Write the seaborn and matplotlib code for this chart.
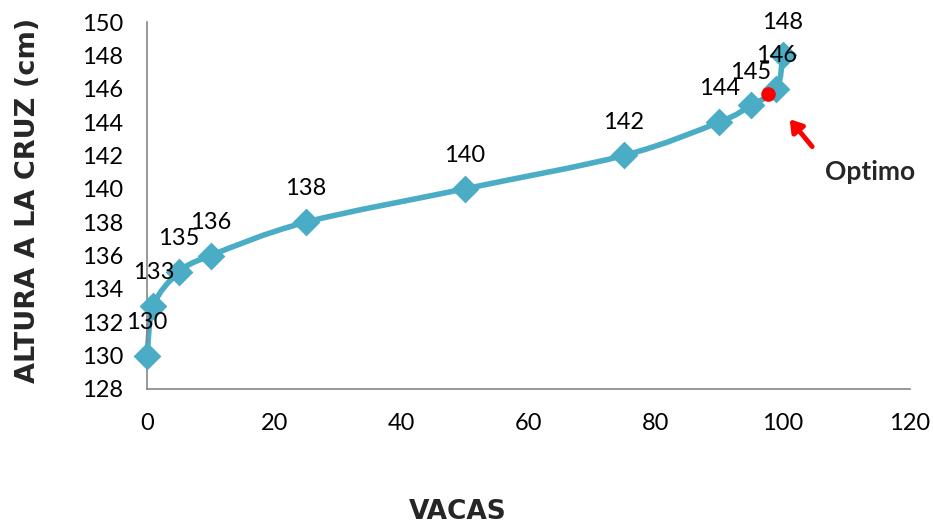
import numpy as np
import pandas as pd
import seaborn as sns
import matplotlib.pyplot as plt
from matplotlib.path import Path
from matplotlib.patches import PathPatch

# data
vacas = [0, 1, 5, 10, 25, 50, 75, 90, 95, 99, 100]
altura = [130, 133, 135, 136, 138, 140, 142, 144, 145, 146, 148]
labels = ["130", "133", "135", "136", "138", "140", "142", "144", "145", "146", "148"]
optimo_x = [97.6]
optimo_y = [145.7]

LINE = "#4BACC6"

sns.set_style("white")
plt.rcParams["font.family"] = ["Lato", "DejaVu Sans"]

df = pd.DataFrame({"VACAS": vacas, "ALTURA": altura})

fig = plt.figure(figsize=(9.33, 5.28), dpi=100)
ax = fig.add_axes([0.1576, 0.2633, 0.8177, 0.695])


def smooth_path(xs, ys):
    # Excel style smoothed line: Catmull-Rom segments as cubic Bezier curves
    pts = np.column_stack([xs, ys]).astype(float)
    n = len(pts)
    verts = [pts[0]]
    codes = [Path.MOVETO]
    for i in range(n - 1):
        p0 = pts[max(i - 1, 0)]
        p1 = pts[i]
        p2 = pts[i + 1]
        p3 = pts[min(i + 2, n - 1)]
        c1 = p1 + (p2 - p0) / 6.0
        c2 = p2 - (p3 - p1) / 6.0
        verts += [c1, c2, p2]
        codes += [Path.CURVE4] * 3
    return Path(verts, codes)


ax.add_patch(PathPatch(smooth_path(df["VACAS"], df["ALTURA"]), fill=False,
                       edgecolor=LINE, lw=4, capstyle="round", joinstyle="round",
                       zorder=2, clip_on=False))
sns.scatterplot(data=df, x="VACAS", y="ALTURA", marker="D", s=200, color=LINE,
                edgecolor=LINE, linewidth=0, ax=ax, zorder=3, clip_on=False)

for x, y, t in zip(vacas, altura, labels):
    ax.annotate(t, (x, y), xytext=(0, 24), textcoords="offset points",
                ha="center", va="center", fontsize=17, color="black")

ax.scatter(optimo_x, optimo_y, s=110, color="red", linewidth=0, zorder=4)
ax.annotate("", xy=(100.8, 144.3), xytext=(104.9, 142.4),
            arrowprops=dict(arrowstyle="-|>,head_length=0.7,head_width=0.45", color="red", lw=3.5))
ax.text(113.7, 141.0, "Optimo", ha="center", va="center", fontsize=19, fontweight="bold")

ax.set_xlim(0, 120)
ax.set_ylim(128, 150)
ax.set_xticks(range(0, 121, 20))
ax.set_yticks(range(128, 151, 2))
ax.tick_params(axis="both", length=0, labelsize=17, colors="black")
ax.tick_params(axis="x", pad=17)
ax.tick_params(axis="y", pad=17)
ax.set_xlabel("")
ax.set_ylabel("")
for side in ["top", "right"]:
    ax.spines[side].set_visible(False)
for side in ["left", "bottom"]:
    ax.spines[side].set_color("#868686")
    ax.spines[side].set_linewidth(1.2)

fig.text(0.491, 0.03, "VACAS", ha="center", va="center", fontsize=19,
         fontweight="heavy", family=["DejaVu Sans"])
fig.text(0.03, 0.621, "ALTURA A LA CRUZ (cm)", ha="center", va="center", rotation=90,
         fontsize=19.5, fontweight="heavy", family=["DejaVu Sans"])

fig.savefig("out.png", dpi=100)
